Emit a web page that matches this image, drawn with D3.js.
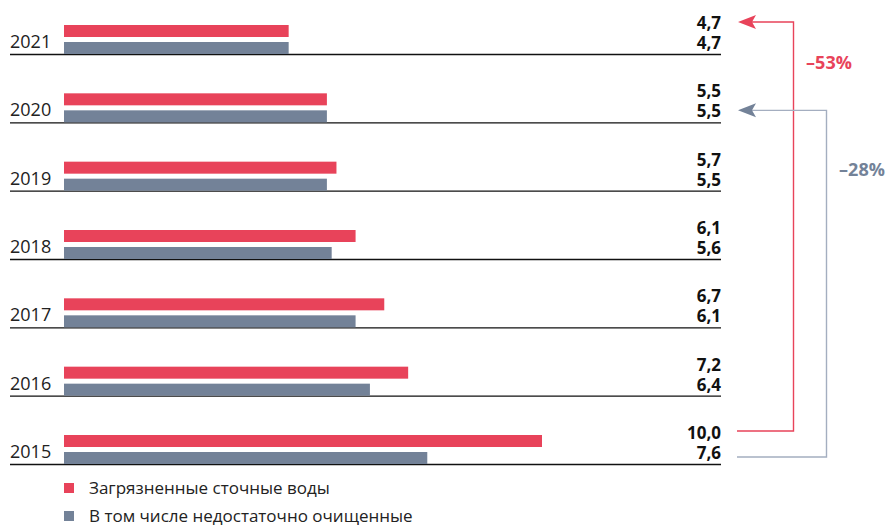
<!DOCTYPE html>
<html>
<head>
<meta charset="utf-8">
<script src="https://cdn.jsdelivr.net/npm/d3@7"></script>
<style>
  body { margin: 0; background: #fff; }
  svg { display: block; font-family: "Open Sans", sans-serif; }
</style>
</head>
<body>
<div id="chart"></div>
<script>
// data
const years = ["2021", "2020", "2019", "2018", "2017", "2016", "2015"];
const polluted = [4.7, 5.5, 5.7, 6.1, 6.7, 7.2, 10.0];
const insufficient = [4.7, 5.5, 5.5, 5.6, 6.1, 6.4, 7.6];
const seriesNames = ["Загрязненные сточные воды", "В том числе недостаточно очищенные"];
const changeLabels = ["–53%", "–28%"];

const RED = "#e8435a";
const GREY = "#738298";

const width = 890, height = 528;

const svg = d3.select("#chart")
    .append("svg")
    .attr("width", width)
    .attr("height", height);

// row baselines
const y = d3.scalePoint()
    .domain(years)
    .range([54, 464]);

const x = d3.scaleLinear()
    .domain([0, 10])
    .range([64, 542]);

const fmt = v => d3.format(".1f")(v).replace(".", ",");

const barH = 12;
const rows = svg.selectAll(".row")
    .data(years)
    .enter()
    .append("g")
    .attr("class", "row");

// baseline rule
rows.append("line")
    .attr("x1", 10)
    .attr("x2", 721)
    .attr("y1", d => y(d) + 0.5)
    .attr("y2", d => y(d) + 0.5)
    .style("stroke", "#111")
    .style("stroke-width", 1.3);

// year label
rows.append("text")
    .attr("x", 10)
    .attr("y", d => y(d) - 6)
    .attr("font-size", "18px")
    .style("fill", "#222")
    .text(d => d);

// red bars
rows.append("rect")
    .attr("x", x(0))
    .attr("y", d => y(d) - 29)
    .attr("height", barH)
    .attr("width", (d, i) => x(polluted[i]) - x(0))
    .style("fill", RED);

// grey bars
rows.append("rect")
    .attr("x", x(0))
    .attr("y", d => y(d) - barH)
    .attr("height", barH)
    .attr("width", (d, i) => x(insufficient[i]) - x(0))
    .style("fill", GREY);

// value labels
rows.append("text")
    .attr("x", 721)
    .attr("y", d => y(d) - 25)
    .attr("text-anchor", "end")
    .attr("font-size", "17px")
    .style("font-weight", "700")
    .style("fill", "#111")
    .text((d, i) => fmt(polluted[i]));

rows.append("text")
    .attr("x", 721)
    .attr("y", d => y(d) - 5)
    .attr("text-anchor", "end")
    .attr("font-size", "17px")
    .style("font-weight", "700")
    .style("fill", "#111")
    .text((d, i) => fmt(insufficient[i]));

// change arrows
const arrows = [
    { from: "2015", to: "2021", yFrom: -33, yTo: -32, xv: 793.5, color: RED, line: RED, label: changeLabels[0], ly: 69, lx: 829 },
    { from: "2015", to: "2020", yFrom: -7, yTo: -12, xv: 826.5, color: GREY, line: "#a4aec0", label: changeLabels[1], ly: 176, lx: 862 }
];

arrows.forEach(a => {
    const y0 = y(a.from) + a.yFrom;
    const y1 = y(a.to) + a.yTo;
    svg.append("path")
        .attr("d", "M737," + y0 + "H" + a.xv + "V" + y1 + "H752")
        .attr("fill", "none")
        .style("stroke", a.line)
        .style("stroke-width", 1.4);
    // arrow head
    svg.append("path")
        .attr("d", "M738," + y1 + "L756," + (y1 - 7) + "L752," + y1 + "L756," + (y1 + 7) + "Z")
        .style("fill", a.color);
    svg.append("text")
        .attr("x", a.lx)
        .attr("y", a.ly)
        .attr("text-anchor", "middle")
        .attr("font-size", "18px")
        .style("font-weight", "700")
        .style("fill", a.color)
        .text(a.label);
});

// legend
const legend = svg.selectAll(".legend")
    .data(seriesNames)
    .enter()
    .append("g")
    .attr("class", "legend")
    .attr("transform", (d, i) => "translate(64," + (483 + i * 28) + ")");

legend.append("rect")
    .attr("width", 10)
    .attr("height", 10)
    .style("fill", (d, i) => i === 0 ? RED : GREY);

legend.append("text")
    .attr("x", 25)
    .attr("y", 11)
    .attr("font-size", "17px")
    .style("fill", "#222")
    .text(d => d);
</script>
</body>
</html>
